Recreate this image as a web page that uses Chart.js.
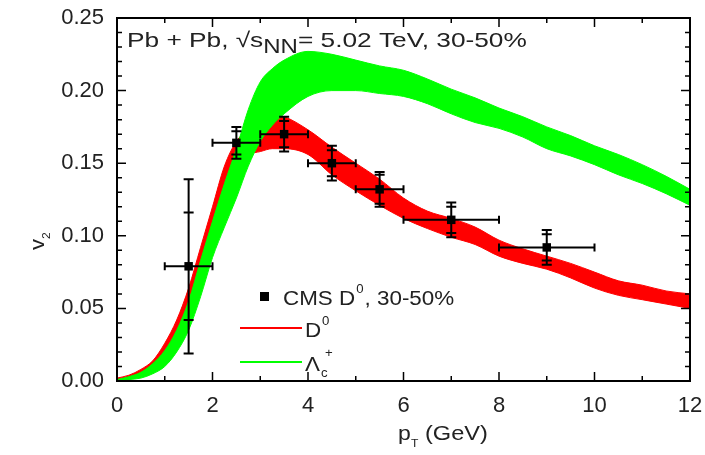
<!DOCTYPE html>
<html lang="en">
  <head>
    <meta charset="UTF-8" />
    <title>v2 vs pT</title>
    <script src="https://cdn.jsdelivr.net/npm/chart.js"></script>
    <style>
      html, body { margin: 0; padding: 0; background: #fff; }
      #wrap { width: 705px; height: 455px; }
    </style>
  </head>
  <body>
    <div id="wrap"><canvas id="v2Chart"></canvas></div>
    <script>
      // band x grid (GeV)
      const bandPt = [0, 0.25, 0.5, 0.75, 1, 1.25, 1.5, 1.75, 2, 2.25, 2.5, 2.75, 3, 3.25, 3.5, 4, 4.5, 5, 5.5, 6, 6.5, 7, 7.5, 8, 8.5, 9, 9.5, 10, 10.5, 11, 11.5, 12]
      // D0 band (red)
      const d0Low = [0, 0.001, 0.004, 0.009, 0.018, 0.033, 0.054, 0.079, 0.106, 0.134, 0.150, 0.156, 0.158, 0.160, 0.160, 0.156, 0.142, 0.131, 0.121, 0.112, 0.105, 0.099, 0.094, 0.086, 0.081, 0.077, 0.071, 0.064, 0.059, 0.056, 0.053, 0.050]
      const d0High = [0.002, 0.004, 0.008, 0.014, 0.026, 0.042, 0.064, 0.092, 0.120, 0.148, 0.165, 0.173, 0.179, 0.183, 0.182, 0.173, 0.161, 0.150, 0.139, 0.126, 0.117, 0.112, 0.106, 0.097, 0.091, 0.086, 0.081, 0.075, 0.069, 0.066, 0.062, 0.060]
      // Lambda_c band (green)
      const lcLow = [0, 0.001, 0.002, 0.005, 0.010, 0.020, 0.035, 0.058, 0.085, 0.106, 0.126, 0.148, 0.165, 0.176, 0.184, 0.196, 0.200, 0.200, 0.198, 0.196, 0.191, 0.184, 0.178, 0.174, 0.168, 0.160, 0.155, 0.149, 0.142, 0.136, 0.129, 0.121]
      const lcHigh = [0.001, 0.003, 0.006, 0.012, 0.021, 0.035, 0.055, 0.083, 0.110, 0.136, 0.160, 0.187, 0.206, 0.215, 0.221, 0.227, 0.225, 0.221, 0.217, 0.214, 0.208, 0.201, 0.195, 0.188, 0.182, 0.175, 0.169, 0.162, 0.156, 0.149, 0.141, 0.132]

      // CMS D0 data
      const cmsPt = [1.5, 2.5, 3.5, 4.5, 5.5, 7, 9]
      const cmsV2 = [0.079, 0.164, 0.170, 0.150, 0.132, 0.111, 0.092]
      const cmsPtErr = [0.5, 0.5, 0.5, 0.5, 0.5, 1, 1]
      const cmsStat = [0.060, 0.011, 0.012, 0.012, 0.012, 0.012, 0.012]
      const cmsSyst = [0.037, 0.008, 0.009, 0.009, 0.010, 0.009, 0.009]

      const yTicks = [0, 0.05, 0.1, 0.15, 0.2, 0.25]
      const xTicks = [0, 2, 4, 6, 8, 10, 12]

      const FONT = '"Liberation Sans", Arial, sans-serif'
      const toXY = (xs, ys) => xs.map((x, i) => ({ x: x, y: ys[i] }))

      function band(data, color, fill, order) {
        return {
          data: data,
          showLine: true,
          borderColor: color,
          borderWidth: 1,
          backgroundColor: color,
          pointRadius: 0,
          cubicInterpolationMode: 'monotone',
          fill: fill,
          order: order
        }
      }

      // text stretched a bit wider, like the original figure; returns advance
      function txt(ctx, s, x, y, size, sx) {
        ctx.save()
        ctx.font = size + 'px ' + FONT
        ctx.translate(x, y)
        ctx.scale(sx, 1)
        ctx.fillText(s, 0, 0)
        const w = ctx.measureText(s).width * sx
        ctx.restore()
        return w
      }

      // frame + inward ticks on all four sides, header, legend, titles
      const framePlugin = {
        id: 'frame',
        afterDraw(chart) {
          const { ctx, chartArea: a, scales } = chart
          ctx.save()
          ctx.strokeStyle = '#000'
          ctx.lineWidth = 1.5
          for (let i = 0; i <= 12; i++) {
            const px = scales.x.getPixelForValue(i)
            const len = i % 2 === 0 ? 9 : 5
            ctx.beginPath()
            ctx.moveTo(px, a.bottom); ctx.lineTo(px, a.bottom - len)
            ctx.moveTo(px, a.top); ctx.lineTo(px, a.top + len)
            ctx.stroke()
          }
          for (let i = 0; i <= 25; i++) {
            const py = scales.y.getPixelForValue(i / 100)
            const len = i % 5 === 0 ? 9 : 5
            ctx.beginPath()
            ctx.moveTo(a.left, py); ctx.lineTo(a.left + len, py)
            ctx.moveTo(a.right, py); ctx.lineTo(a.right - len, py)
            ctx.stroke()
          }
          ctx.lineWidth = 2
          ctx.strokeRect(a.left, a.top, a.right - a.left, a.bottom - a.top)

          ctx.fillStyle = '#222'
          ctx.textBaseline = 'alphabetic'
          ctx.textAlign = 'left'

          // header
          let x = 127
          x += txt(ctx, 'Pb + Pb, \u221As', x, 47, 21, 1.25)
          x += txt(ctx, 'NN', x, 53, 20, 1.2)
          txt(ctx, '= 5.02 TeV, 30-50%', x, 47, 21, 1.25)

          // legend
          ctx.fillStyle = '#000'
          ctx.fillRect(260, 292, 9, 9)
          ctx.fillStyle = '#222'
          x = 283
          x += txt(ctx, 'CMS D', x, 305, 20, 1.12)
          x += txt(ctx, '0', x + 1, 293, 12, 1.1) + 2
          txt(ctx, ', 30-50%', x, 305, 20, 1.12)

          ctx.lineWidth = 2
          ctx.strokeStyle = '#ff0000'
          ctx.beginPath(); ctx.moveTo(240, 328); ctx.lineTo(302, 328); ctx.stroke()
          ctx.strokeStyle = '#00ff00'
          ctx.beginPath(); ctx.moveTo(240, 362); ctx.lineTo(302, 362); ctx.stroke()

          txt(ctx, 'D', 305, 337, 20, 1.12)
          txt(ctx, '0', 322, 325, 12, 1.1)
          txt(ctx, '\u039B', 305, 371, 20, 1.12)
          txt(ctx, 'c', 321, 377, 12, 1.1)
          txt(ctx, '+', 325, 357, 12, 1.1)

          // axis titles
          txt(ctx, 'p', 398, 440, 20, 1.15)
          txt(ctx, 'T', 411, 447, 11, 1.1)
          txt(ctx, '(GeV)', 425, 440, 20, 1.18)

          ctx.translate(44, 250)
          ctx.rotate(-Math.PI / 2)
          txt(ctx, 'v', 0, 0, 20, 1.1)
          txt(ctx, '2', 11, 6, 11, 1.1)
          ctx.restore()
        }
      }

      // error bars for the CMS points, drawn just before the points
      const errorBarPlugin = {
        id: 'errbars',
        beforeDatasetDraw(chart, args) {
          if (args.index !== 4) return
          const { ctx, scales } = chart
          const sx = scales.x, sy = scales.y
          ctx.save()
          ctx.strokeStyle = '#000'
          ctx.lineWidth = 2
          cmsPt.forEach((pt, i) => {
            const px = sx.getPixelForValue(pt)
            const py = sy.getPixelForValue(cmsV2[i])
            const xl = sx.getPixelForValue(pt - cmsPtErr[i])
            const xr = sx.getPixelForValue(pt + cmsPtErr[i])
            const yt = sy.getPixelForValue(cmsV2[i] + cmsStat[i])
            const yb = sy.getPixelForValue(cmsV2[i] - cmsStat[i])
            const st = sy.getPixelForValue(cmsV2[i] + cmsSyst[i])
            const sb = sy.getPixelForValue(cmsV2[i] - cmsSyst[i])
            ctx.beginPath()
            ctx.moveTo(xl, py); ctx.lineTo(xr, py)
            ctx.moveTo(xl, py - 4); ctx.lineTo(xl, py + 4)
            ctx.moveTo(xr, py - 4); ctx.lineTo(xr, py + 4)
            ctx.moveTo(px, yt); ctx.lineTo(px, yb)
            ;[yt, yb, st, sb].forEach(yy => {
              ctx.moveTo(px - 5, yy); ctx.lineTo(px + 5, yy)
            })
            ctx.stroke()
          })
          ctx.restore()
        }
      }

      const ctx = document.getElementById('v2Chart').getContext('2d')
      new Chart(ctx, {
        type: 'scatter',
        data: {
          datasets: [
            band(toXY(bandPt, lcHigh), '#00ff00', '+1', 2),
            band(toXY(bandPt, lcLow), '#00ff00', false, 2),
            band(toXY(bandPt, d0High), '#ff0000', '+1', 3),
            band(toXY(bandPt, d0Low), '#ff0000', false, 3),
            {
              label: 'CMS D0, 30-50%',
              data: toXY(cmsPt, cmsV2),
              pointStyle: 'rect',
              pointRadius: 6,
              pointHoverRadius: 6,
              backgroundColor: '#000',
              borderColor: '#000',
              borderWidth: 0,
              order: 0
            }
          ]
        },
        options: {
          responsive: true,
          maintainAspectRatio: false,
          animation: false,
          layout: { padding: { top: 18, right: 15, left: 0, bottom: 0 } },
          plugins: { legend: { display: false }, tooltip: { enabled: false } },
          scales: {
            x: {
              type: 'linear',
              min: 0,
              max: 12,
              afterBuildTicks: s => { s.ticks = xTicks.map(v => ({ value: v })) },
              afterFit: s => {
                s.height = 74
                s.paddingLeft = 0
                s.paddingRight = 0
              },
              grid: { display: false, drawTicks: false },
              border: { display: false },
              ticks: {
                padding: 12,
                color: '#222',
                font: { family: FONT, size: 22 },
                maxRotation: 0,
                callback: v => String(v)
              }
            },
            y: {
              type: 'linear',
              min: 0,
              max: 0.25,
              afterBuildTicks: s => { s.ticks = yTicks.map(v => ({ value: v })) },
              afterFit: s => {
                s.width = 117
                s.paddingTop = 0
                s.paddingBottom = 0
              },
              grid: { display: false, drawTicks: false },
              border: { display: false },
              ticks: {
                padding: 13,
                color: '#222',
                font: { family: FONT, size: 22 },
                callback: v => v.toFixed(2)
              }
            }
          }
        },
        plugins: [framePlugin, errorBarPlugin]
      })
    </script>
  </body>
</html>
